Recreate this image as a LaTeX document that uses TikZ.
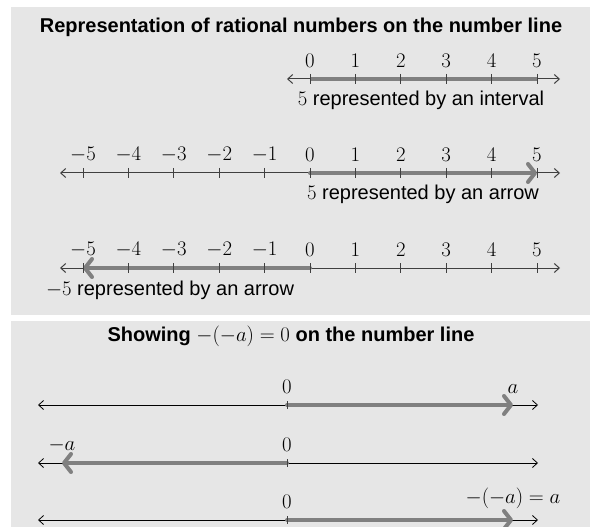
\documentclass[tikz,border=0pt]{standalone}
\usepackage{fontspec}
\setmainfont{Liberation Sans}
\usetikzlibrary{arrows.meta}
\definecolor{panelbg}{HTML}{E6E6E6}
\definecolor{thickgray}{HTML}{808080}
\definecolor{thingray}{HTML}{404040}
\tikzset{
  numline/.style={draw=thingray, line width=1pt,
    {Straight Barb[length=5pt,width=9pt]}-{Straight Barb[length=5pt,width=9pt]}},
  numlineb/.style={numline, draw=black, line width=0.8pt},
  tickmark/.style={draw=thingray, line width=1pt},
  band/.style={draw=thickgray, line width=4pt},
  bandarrow/.style={draw=thickgray, line width=4pt, line cap=round,
    -{Straight Barb[length=7pt,width=18pt,round]}},
  lab/.style={anchor=south, inner sep=0pt},
  caption/.style={inner sep=0pt},
  ttl/.style={inner sep=0pt, font=\fontsize{20}{24}\selectfont\bfseries}
}
\begin{document}
\begin{tikzpicture}[x=1pt,y=-1pt,font=\fontsize{20}{24}\selectfont]
\useasboundingbox (0,0) rectangle (590,527);
\clip (0,0) rectangle (590,527);
\fill[panelbg] (11,7) rectangle (600,315);
\fill[panelbg] (11,321) rectangle (600,540);
% ---- panel 1
\node[ttl] (t1) at (301,27) {Representation of rational numbers on the number line};
% row 1
\foreach \k in {0,...,5}{\coordinate (a\k) at ({310+45.4*\k},79);}
\coordinate (aL) at (287,79);
\coordinate (aR) at (560,79);
\draw[numline] (aL) -- (aR);
\draw[band] (a0) -- (a5);
\foreach \k in {0,...,5}{
  \draw[tickmark] ([yshift=5pt]a\k) -- ([yshift=-5pt]a\k);
  \node[lab] (la\k) at ([yshift=11pt]a\k) {$\k$};
}
\node[caption] (ca) at (421,100) {$5$ represented by an interval};
% row 2
\foreach \k in {-5,...,5}{\coordinate (b\k) at ({310+45.4*\k},173);}
\coordinate (bL) at (60,173);
\coordinate (bR) at (560,173);
\draw[numline] (bL) -- (bR);
\draw[bandarrow] (b0) -- (b5);
\foreach \k in {-5,...,5}{
  \draw[tickmark] ([yshift=5pt]b\k) -- ([yshift=-5pt]b\k);
  \node[lab] (lb\k) at ([yshift=11pt]b\k) {$\k$};
}
\node[caption] (cb) at (423,194) {$5$ represented by an arrow};
% row 3
\foreach \k in {-5,...,5}{\coordinate (c\k) at ({310+45.4*\k},268);}
\coordinate (cL) at (60,268);
\coordinate (cR) at (560,268);
\draw[numline] (cL) -- (cR);
\draw[bandarrow] (c0) -- (c-5);
\foreach \k in {-5,...,5}{
  \draw[tickmark] ([yshift=5pt]c\k) -- ([yshift=-5pt]c\k);
  \node[lab] (lc\k) at ([yshift=11pt]c\k) {$\k$};
}
\node[caption] (cc) at (170,290) {$-5$ represented by an arrow};
% ---- panel 2
\node[ttl] (t2) at (291,336) {Showing {\mdseries$-(-a)=0$} on the number line};
% line A
\coordinate (pL) at (38,405);
\coordinate (pR) at (538,405);
\coordinate (p0) at (287,405);
\coordinate (pa) at (513,405);
\draw[numlineb] (pL) -- (pR);
\draw[bandarrow] (p0) -- (pa);
\draw[tickmark] ([yshift=4pt]p0) -- ([yshift=-4pt]p0);
\node[lab] (lp0) at ([yshift=11pt]p0) {$0$};
\node[lab] (lpa) at ([yshift=11pt]pa) {$a$};
% line B
\coordinate (qL) at (38,463);
\coordinate (qR) at (538,463);
\coordinate (q0) at (287,463);
\coordinate (qa) at (62,463);
\draw[numlineb] (qL) -- (qR);
\draw[bandarrow] (q0) -- (qa);
\draw[tickmark] ([yshift=4pt]q0) -- ([yshift=-4pt]q0);
\node[lab] (lq0) at ([yshift=11pt]q0) {$0$};
\node[lab] (lqa) at ([yshift=11pt]qa) {$-a$};
% line C
\coordinate (rL) at (38,520);
\coordinate (rR) at (538,520);
\coordinate (r0) at (287,520);
\coordinate (ra) at (513,520);
\draw[numlineb] (rL) -- (rR);
\draw[bandarrow] (r0) -- (ra);
\draw[tickmark] ([yshift=4pt]r0) -- ([yshift=-4pt]r0);
\node[lab] (lr0) at ([yshift=11pt]r0) {$0$};
\node[lab] (lra) at ([yshift=11pt]ra) {$-(-a)=a$};
\end{tikzpicture}
\end{document}
